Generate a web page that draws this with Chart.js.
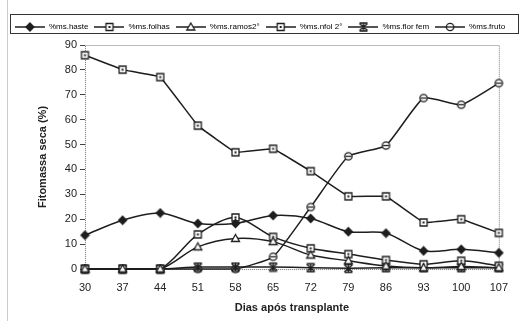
<!DOCTYPE html>
<html>
<head>
<meta charset="utf-8">
<script src="https://cdn.jsdelivr.net/npm/chart.js@4"></script>
<style>
  html, body { margin: 0; padding: 0; background: #fff; }
  #wrap { width: 520px; height: 321px; }
</style>
</head>
<body>
<div id="wrap"><canvas id="chart" width="520" height="321"></canvas></div>
<script>
// Dias após transplante
const dias = ['30', '37', '44', '51', '58', '65', '72', '79', '86', '93', '100', '107'];
const yTicks = [0, 10, 20, 30, 40, 50, 60, 70, 80, 90];

const haste  = [13.6, 19.6, 22.5, 18.3, 18.3, 21.5, 20.3, 15.0, 14.4, 7.3, 7.9, 6.5];
const folhas = [85.9, 80.1, 77.1, 57.6, 46.9, 48.3, 39.3, 29.2, 29.2, 18.7, 20.0, 14.5];
const ramos2 = [0, 0, 0, 8.9, 12.3, 11.0, 5.6, 3.3, 1.2, 0.5, 1.0, 0.5];
const nfol2  = [0, 0, 0, 13.9, 20.7, 12.9, 8.3, 6.0, 3.6, 1.9, 3.3, 1.3];
const florFem = [0, 0, 0, 0.8, 0.8, 0.8, 0.5, 0.3, 0.5, 0.5, 0.5, 0.5];
const fruto  = [0, 0, 0, 0, 0, 4.9, 24.9, 45.3, 49.6, 68.7, 66.0, 74.7];

const ink = '#1e1e1e';

// draw one marker shape on a context
function drawMarker(ctx, shape, x, y) {
    ctx.save();
    ctx.strokeStyle = ink;
    ctx.fillStyle = '#fff';
    ctx.lineWidth = 1.3;
    ctx.beginPath();
    if (shape === 'diamond') {
        ctx.fillStyle = ink;
        ctx.moveTo(x, y - 4); ctx.lineTo(x + 4, y); ctx.lineTo(x, y + 4); ctx.lineTo(x - 4, y);
        ctx.closePath(); ctx.fill(); ctx.stroke();
    } else if (shape === 'square') {
        ctx.rect(x - 3.5, y - 3.5, 7, 7); ctx.fill(); ctx.stroke();
        ctx.fillStyle = ink; ctx.fillRect(x - 1, y - 1, 2, 2);
    } else if (shape === 'triangle') {
        ctx.moveTo(x, y - 4); ctx.lineTo(x + 4, y + 3); ctx.lineTo(x - 4, y + 3);
        ctx.closePath(); ctx.fill(); ctx.stroke();
    } else if (shape === 'star') {
        ctx.lineWidth = 1.4;
        ctx.moveTo(x - 4, y - 3.5); ctx.lineTo(x + 4, y + 3.5);
        ctx.moveTo(x + 4, y - 3.5); ctx.lineTo(x - 4, y + 3.5);
        ctx.moveTo(x, y - 4); ctx.lineTo(x, y + 4);
        ctx.moveTo(x - 4, y - 4); ctx.lineTo(x + 4, y - 4);
        ctx.moveTo(x - 4, y + 4); ctx.lineTo(x + 4, y + 4);
        ctx.stroke();
    } else if (shape === 'circle') {
        ctx.arc(x, y, 3.7, 0, Math.PI * 2); ctx.fill(); ctx.stroke();
        ctx.beginPath(); ctx.moveTo(x - 3, y); ctx.lineTo(x + 3, y); ctx.stroke();
    }
    ctx.restore();
}

function markerImage(shape) {
    const c = document.createElement('canvas');
    c.width = 11; c.height = 11;
    drawMarker(c.getContext('2d'), shape, 5.5, 5.5);
    return c;
}

function legendImage(shape) {
    const c = document.createElement('canvas');
    c.width = 30; c.height = 10;
    const ctx = c.getContext('2d');
    ctx.strokeStyle = ink;
    ctx.lineWidth = 1.5;
    ctx.beginPath(); ctx.moveTo(0, 5); ctx.lineTo(30, 5); ctx.stroke();
    drawMarker(ctx, shape, 15, 5);
    return c;
}

const series = [
    { label: '%ms.haste',    data: haste,   shape: 'diamond',  tension: 0.3 },
    { label: '%ms.folhas',   data: folhas,  shape: 'square',   tension: 0.05 },
    { label: '%ms.ramos2°',  data: ramos2,  shape: 'triangle', tension: 0.3 },
    { label: '%ms.nfol 2°',  data: nfol2,   shape: 'square',   tension: 0.3 },
    { label: '%ms.flor fem', data: florFem, shape: 'star',     tension: 0.2 },
    { label: '%ms.fruto',    data: fruto,   shape: 'circle',   tension: 0.15 }
];

// dotted frame round the plot and box round the legend
const framePlugin = {
    id: 'frame',
    beforeUpdate(chart) {
        // leave a little more room under the legend
        const lg = chart.legend;
        if (lg && !lg._extraSpace) {
            const fit = lg.fit.bind(lg);
            lg.fit = function() { fit(); this.height += 4; };
            lg._extraSpace = true;
        }
    },
    beforeDatasetsDraw(chart) {
        const { ctx, chartArea: a } = chart;
        ctx.save();
        ctx.strokeStyle = '#777';
        ctx.lineWidth = 1;
        ctx.setLineDash([1, 1]);
        ctx.strokeRect(a.left + 0.5, a.top + 0.5, a.right - a.left, a.bottom - a.top);
        ctx.restore();
    },
    afterDraw(chart) {
        const ctx = chart.ctx;
        ctx.save();
        ctx.strokeStyle = '#333';
        ctx.lineWidth = 1;
        ctx.strokeRect(10.5, 14.5, 508, 19);
        ctx.strokeStyle = '#ccc';
        ctx.beginPath(); ctx.moveTo(7.5, 0); ctx.lineTo(7.5, 321); ctx.stroke();
        ctx.restore();
    }
};

new Chart(document.getElementById('chart'), {
    type: 'line',
    data: {
        labels: dias,
        datasets: series.map(s => ({
            label: s.label,
            data: s.data,
            borderColor: ink,
            borderWidth: 1.5,
            backgroundColor: '#fff',
            pointStyle: markerImage(s.shape),
            legendImg: legendImage(s.shape),
            pointRadius: 4,
            tension: s.tension,
            clip: false
        }))
    },
    options: {
        responsive: false,
        animation: false,
        layout: { padding: { left: 0, right: 0, top: 17, bottom: 2 } },
        plugins: {
            tooltip: { enabled: false },
            legend: {
                position: 'top',
                labels: {
                    usePointStyle: true,
                    pointStyleWidth: 30,
                    boxHeight: 10,
                    padding: 6,
                    color: '#222',
                    font: { family: "'Liberation Sans Narrow', 'Liberation Sans', Arial, sans-serif", size: 8 },
                    generateLabels(chart) {
                        return chart.data.datasets.map((ds, i) => ({
                            text: ds.label,
                            pointStyle: ds.legendImg,
                            fillStyle: '#fff',
                            strokeStyle: ink,
                            lineWidth: 0,
                            hidden: false,
                            datasetIndex: i
                        }));
                    }
                }
            }
        },
        scales: {
            x: {
                offset: false,
                afterFit(scale) { scale.height = 50; },
                grid: { display: false, drawTicks: false },
                border: { display: false },
                ticks: { color: '#222', padding: 12, font: { family: 'Liberation Sans', size: 11 }, maxRotation: 0 },
                title: {
                    display: true,
                    text: 'Dias após transplante',
                    color: '#222',
                    padding: { top: 4, bottom: 4 },
                    font: { family: 'Liberation Sans', size: 11, weight: 'bold' }
                }
            },
            y: {
                min: 0,
                max: 90,
                afterBuildTicks(scale) { scale.ticks = yTicks.map(v => ({ value: v })); },
                afterFit(scale) { scale.width = 85; },
                grid: { drawOnChartArea: false, tickLength: 5, color: '#444' },
                border: { display: false },
                ticks: { color: '#222', padding: 3, autoSkip: false, font: { family: 'Liberation Sans', size: 11 } },
                title: {
                    display: true,
                    text: 'Fitomassa seca (%)',
                    color: '#222',
                    padding: { top: 36, bottom: 4 },
                    font: { family: 'Liberation Sans', size: 11, weight: 'bold' }
                }
            },
            yRight: {
                position: 'right',
                afterFit(scale) { scale.width = 21; },
                grid: { display: false },
                border: { display: false },
                ticks: { display: false }
            }
        }
    },
    plugins: [framePlugin]
});
</script>
</body>
</html>
